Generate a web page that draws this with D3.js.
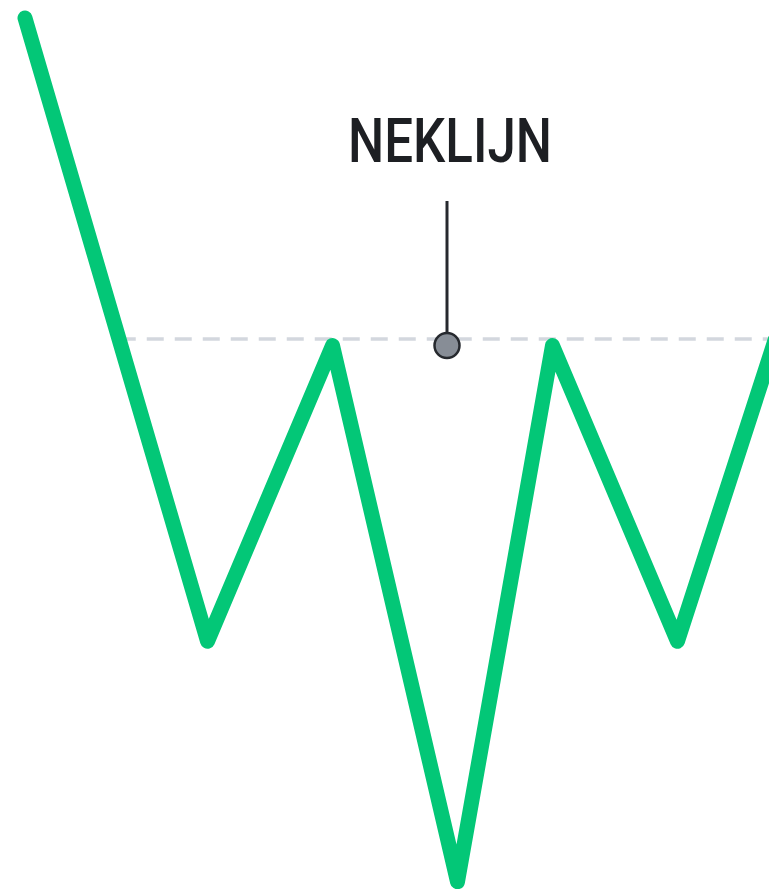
<!DOCTYPE html>
<html>
<head>
<meta charset="utf-8">
<script src="https://cdn.jsdelivr.net/npm/d3@7"></script>
<style>
  html, body { margin: 0; padding: 0; background: #fff; }
  svg { display: block; }
</style>
</head>
<body>
<svg id="chart" width="769" height="889"></svg>
<script>
// Inverse head-and-shoulders pattern (time units, price units)
const times  = [0, 7.3, 12.3, 17.3, 21.1, 26.1, 30];
const prices = [100, 27.7, 62, -0.2, 62, 27.7, 62.6];
const necklineLevel = 62.76;
const necklineStart = 3.75;
const necklineEnd = 30;
const markerTime = 16.88;
const markerPrice = 62;
const labelText = "NEKLIJN";

const svg = d3.select("#chart");
const x = d3.scaleLinear().domain([0, 30]).range([25, 775]);
const y = d3.scaleLinear().domain([0, 100]).range([880, 18]);

// neckline (dashed)
svg.append("line")
  .attr("x1", x(necklineStart)).attr("x2", x(necklineEnd))
  .attr("y1", y(necklineLevel)).attr("y2", y(necklineLevel))
  .attr("stroke", "#d3d7de")
  .attr("stroke-width", 3.5)
  .attr("stroke-dasharray", "17,11");

// price line
const data = times.map((t, i) => ({ t, p: prices[i] }));
svg.append("path")
  .datum(data)
  .attr("fill", "none")
  .attr("stroke", "#03c777")
  .attr("stroke-width", 15)
  .attr("stroke-linejoin", "round")
  .attr("stroke-linecap", "round")
  .attr("d", d3.line().x(d => x(d.t)).y(d => y(d.p)));

// callout line
svg.append("line")
  .attr("x1", x(markerTime)).attr("x2", x(markerTime))
  .attr("y1", 201).attr("y2", y(markerPrice))
  .attr("stroke", "#26292e")
  .attr("stroke-width", 3);

// marker dot
svg.append("circle")
  .attr("cx", x(markerTime)).attr("cy", y(markerPrice))
  .attr("r", 12.5)
  .attr("fill", "#878d96")
  .attr("stroke", "#26292e")
  .attr("stroke-width", 2.5);

// label
svg.append("text")
  .attr("x", 450).attr("y", 162)
  .attr("text-anchor", "middle")
  .attr("font-family", "Roboto, 'Noto Sans', sans-serif")
  .attr("font-weight", 500)
  .attr("font-size", 61)
  .attr("fill", "#1d1f23")
  .attr("textLength", 204)
  .attr("lengthAdjust", "spacingAndGlyphs")
  .text(labelText);
</script>
</body>
</html>
